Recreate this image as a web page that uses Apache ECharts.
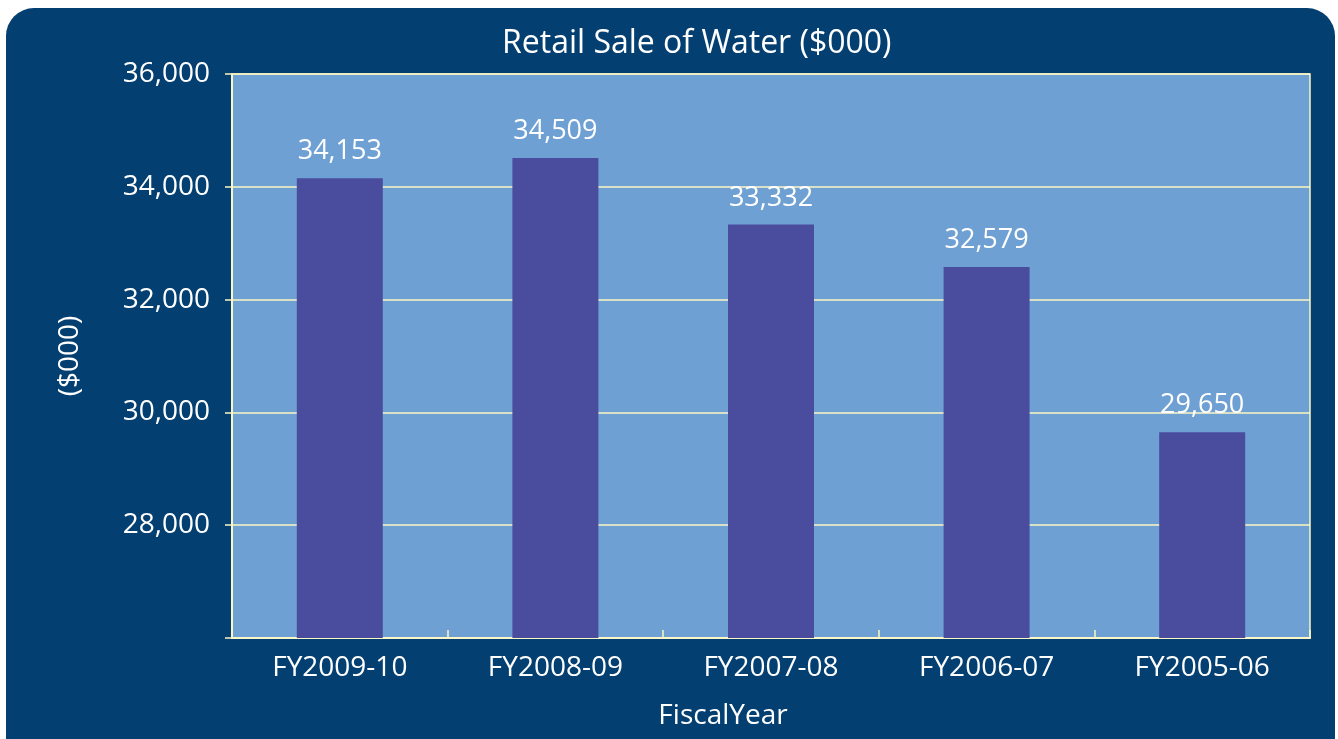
<!DOCTYPE html>
<html>
<head>
<meta charset="utf-8">
<script src="https://cdn.jsdelivr.net/npm/echarts@6/dist/echarts.min.js"></script>
<style>
  html, body { margin: 0; padding: 0; background: #ffffff; }
  #chart { width: 1338px; height: 739px; }
</style>
</head>
<body>
<div id="chart"></div>
<script>
const categories = ['FY2009-10', 'FY2008-09', 'FY2007-08', 'FY2006-07', 'FY2005-06']
const sales = [34153, 34509, 33332, 32579, 29650]

const font = '"Open Sans", "Noto Sans", sans-serif'
const cream = '#fbf6c4'

const chart = echarts.init(document.getElementById('chart'))
chart.setOption({
  animation: false,
  // rounded navy panel behind everything
  graphic: [{
    type: 'rect',
    z: -10,
    silent: true,
    shape: { x: 6, y: 8, width: 1329, height: 760, r: 28 },
    style: { fill: '#043f71' }
  }],
  title: {
    text: 'Retail Sale of Water ($000)',
    left: 497,
    top: 23,
    textStyle: { color: '#ffffff', fontFamily: font, fontWeight: 'normal', fontSize: 32 }
  },
  grid: {
    left: 232,
    right: 28,
    top: 74,
    bottom: 101,
    show: true,
    backgroundColor: '#6fa0d4',
    borderColor: cream,
    borderWidth: 1.5
  },
  xAxis: {
    type: 'category',
    data: categories,
    name: 'FiscalYear',
    nameLocation: 'middle',
    nameGap: 64,
    nameTextStyle: { color: '#ffffff', fontFamily: font, fontSize: 28, padding: [0, 96, 0, 0] },
    axisLine: { lineStyle: { color: cream, width: 2 } },
    axisTick: { show: true, inside: true, length: 8, lineStyle: { color: cream, width: 1.5 } },
    axisLabel: { color: '#ffffff', fontFamily: font, fontSize: 28, margin: 16 }
  },
  yAxis: {
    type: 'value',
    min: 26000,
    max: 36000,
    interval: 2000,
    name: '($000)',
    nameLocation: 'middle',
    nameGap: 148,
    nameTextStyle: { color: '#ffffff', fontFamily: font, fontSize: 28 },
    axisLine: { show: true, lineStyle: { color: cream, width: 2 } },
    axisTick: { show: true, length: 7, lineStyle: { color: cream, width: 1.5 } },
    splitLine: { lineStyle: { color: cream, width: 1.5 } },
    axisLabel: {
      color: '#ffffff',
      fontFamily: font,
      fontSize: 28,
      margin: 22,
      formatter: function (v) {
        if (v === 26000) return ''
        return v.toLocaleString('en-US')
      }
    }
  },
  series: [{
    type: 'bar',
    data: sales,
    barWidth: 86,
    itemStyle: { color: '#4a4c9e' },
    label: {
      show: true,
      position: 'top',
      distance: 13,
      color: '#ffffff',
      fontFamily: font,
      fontSize: 27,
      formatter: function (p) { return p.value.toLocaleString('en-US') }
    }
  }]
})
</script>
</body>
</html>
